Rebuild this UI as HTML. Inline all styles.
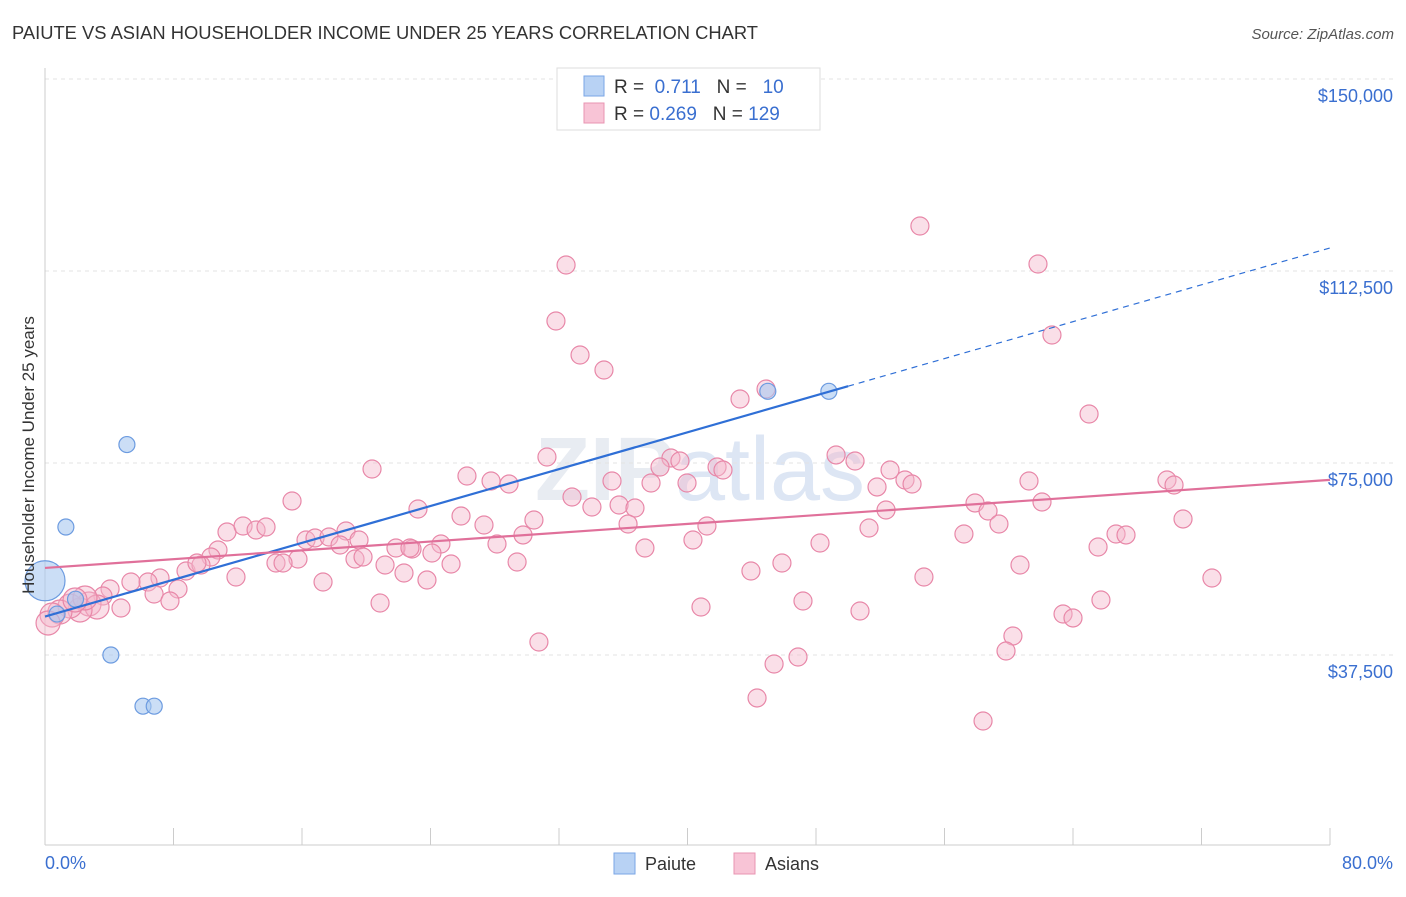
<!DOCTYPE html>
<html><head><meta charset="utf-8"><style>
body{margin:0;background:#fff;font-family:"Liberation Sans",sans-serif;}
svg text{font-family:"Liberation Sans",sans-serif;}
</style></head><body>
<svg width="1406" height="892">
<text x="12" y="39" font-size="18" fill="#333" textLength="746" lengthAdjust="spacingAndGlyphs">PAIUTE VS ASIAN HOUSEHOLDER INCOME UNDER 25 YEARS CORRELATION CHART</text>
<text x="1394" y="39" font-size="15" fill="#555" font-style="italic" text-anchor="end">Source: ZipAtlas.com</text>
<text x="700" y="500" font-size="90" fill="#e8ecf2" text-anchor="middle" font-weight="bold">ZIP<tspan font-weight="normal" fill="#dde6f4">atlas</tspan></text>
<g id="grid"></g><g id="axes"></g><g id="marks"></g>
<text transform="translate(34,455) rotate(-90)" font-size="17" fill="#333" text-anchor="middle">Householder Income Under 25 years</text>
<text x="45" y="869" font-size="18" fill="#3a6fd0">0.0%</text>
<text x="1393" y="869" font-size="18" fill="#3a6fd0" text-anchor="end">80.0%</text>
<g>
<rect x="557" y="68" width="263" height="62" fill="#fff" stroke="#ddd"/>
<rect x="584" y="76" width="20" height="20" fill="#b8d2f4" stroke="#7aa6e6"/>
<rect x="584" y="103" width="20" height="20" fill="#f8c4d6" stroke="#e894b2"/>
<text x="614" y="93" font-size="19" fill="#333">R = <tspan fill="#3a6fd0">&#160;0.711</tspan>&#160;&#160;&#160;N = <tspan fill="#3a6fd0">&#160;&#160;10</tspan></text>
<text x="614" y="120" font-size="19" fill="#333">R = <tspan fill="#3a6fd0">0.269</tspan>&#160;&#160;&#160;N = <tspan fill="#3a6fd0">129</tspan></text>
</g>
<g>
<rect x="614" y="853" width="21" height="21" fill="#b8d2f4" stroke="#7aa6e6"/>
<text x="645" y="870" font-size="18" fill="#333">Paiute</text>
<rect x="734" y="853" width="21" height="21" fill="#f8c4d6" stroke="#e894b2"/>
<text x="765" y="870" font-size="18" fill="#333">Asians</text>
</g>
</svg>
<script>
const yTicks=[37500,75000,112500,150000];
const yTickLabels=["$37,500","$75,000","$112,500","$150,000"];
const xTicks=[0,8,16,24,32,40,48,56,64,72,80];
const paiuteX=[0,1.3,5.1,4.1,6.1,6.8,0.75,1.9,45.0,48.8];
const paiuteY=[52000,62500,78600,37500,27500,27500,45500,48400,89000,89000];
const asianPx=[[920,226],[1038,264],[566,265],[556,321],[1052,335],[580,355],[604,370],[766,389],[740,399],[1089,414],[547,457],[836,455],[671,458],[680,461],[855,461],[660,467],[717,467],[723,470],[372,469],[467,476],[491,481],[509,484],[612,481],[651,483],[687,483],[890,470],[877,487],[905,480],[912,484],[1029,481],[1167,480],[1174,485],[292,501],[572,497],[592,507],[619,505],[635,508],[418,509],[461,516],[1042,502],[975,503],[988,511],[886,510],[484,525],[534,520],[628,524],[707,526],[999,524],[1183,519],[227,532],[243,526],[256,530],[266,527],[869,528],[964,534],[306,540],[315,538],[329,537],[346,531],[359,540],[412,549],[441,544],[497,544],[523,535],[693,540],[1116,534],[1126,535],[1098,547],[218,550],[211,557],[645,548],[396,548],[410,548],[432,553],[340,545],[355,559],[363,557],[298,559],[276,563],[283,563],[385,565],[451,564],[517,562],[820,543],[782,563],[1020,565],[236,577],[186,571],[201,565],[197,563],[751,571],[924,577],[1212,578],[160,578],[148,582],[131,582],[110,589],[103,596],[178,589],[154,594],[170,601],[323,582],[404,573],[427,580],[380,603],[701,607],[803,601],[860,611],[1101,600],[1063,614],[1073,618],[1013,636],[1006,651],[798,657],[774,664],[539,642],[757,698],[983,721],[89,604],[97,607],[121,608],[80,610],[70,606],[60,612],[52,615],[48,623],[85,598],[75,600]];
const asianX=asianPx.map(p=>+((p[0]-45)*80/1285).toFixed(2));
const asianY=asianPx.map(p=>Math.round((847-p[1])*37500/192));
const paiuteLine=[[0,45000],[50,90000],[80,117000]];
const asianLine=[[0,54500],[80,71700]];
const X=v=>45+v*1285/80, Y=v=>847-v*192/37500;
const NS="http://www.w3.org/2000/svg";
function mk(t,a,p){const e=document.createElementNS(NS,t);for(const k in a)e.setAttribute(k,a[k]);p.appendChild(e);return e;}
const grid=document.getElementById('grid'),axes=document.getElementById('axes'),marks=document.getElementById('marks');
yTicks.forEach((v,i)=>{
 const l=mk('line',{x1:45,x2:1394,y1:Y(v),y2:Y(v),stroke:'#e3e3e3','stroke-dasharray':'4,4'},grid);
 
 
 const t=mk('text',{x:1393,y:Y(v)+23,'font-size':18,fill:'#3a6fd0','text-anchor':'end'},axes);
 t.textContent=yTickLabels[i];
 
 
});
const ax=mk('line',{x1:45,x2:1330,y1:845,y2:845,stroke:'#ccc'},axes);

const ay=mk('line',{x1:45,x2:45,y1:68,y2:845,stroke:'#ccc'},axes);

xTicks.forEach(v=>{const l=mk('line',{x1:X(v),x2:X(v),y1:828,y2:845,stroke:'#ccc'},axes);
 
 });
asianX.forEach((x,i)=>{const px=X(x);const c=mk('circle',{cx:px,cy:Y(asianY[i]),r:px<100?12:9,fill:'#f4b8cc','fill-opacity':0.45,stroke:'#e887a8','stroke-width':1.2},marks);
 
 });
paiuteX.forEach((x,i)=>{const c=mk('circle',{cx:X(x),cy:Y(paiuteY[i]),r:i==0?20:8,fill:'#a8c8f0','fill-opacity':0.6,stroke:'#6c9be0','stroke-width':1.2},marks);
 
 });
const pl=mk('line',{x1:X(paiuteLine[0][0]),y1:Y(paiuteLine[0][1]),x2:X(paiuteLine[1][0]),y2:Y(paiuteLine[1][1]),stroke:'#2f6fd6','stroke-width':2.2},marks);

const pd=mk('line',{x1:X(paiuteLine[1][0]),y1:Y(paiuteLine[1][1]),x2:X(paiuteLine[2][0]),y2:Y(paiuteLine[2][1]),stroke:'#2f6fd6','stroke-width':1.2,'stroke-dasharray':'6,5'},marks);

const al=mk('line',{x1:X(asianLine[0][0]),y1:Y(asianLine[0][1]),x2:X(asianLine[1][0]),y2:Y(asianLine[1][1]),stroke:'#e0709a','stroke-width':2.2},marks);

</script>
</body></html>
